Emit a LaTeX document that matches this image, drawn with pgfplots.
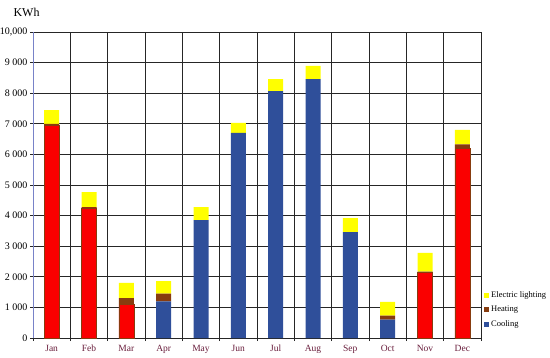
\documentclass[border=0pt]{standalone}
\usepackage{fontspec}
\setmainfont{Liberation Serif}
\usepackage{pgfplots}
\pgfplotsset{compat=1.18}

\definecolor{cool}{RGB}{47,79,154}
\definecolor{heatred}{RGB}{250,0,0}
\definecolor{heat}{RGB}{135,60,15}
\definecolor{light}{RGB}{255,255,0}
\definecolor{month}{RGB}{105,30,60}
\definecolor{yline}{RGB}{120,130,200}

\begin{document}
\begin{tikzpicture}
\useasboundingbox (-33pt,-19pt) rectangle (517pt,338pt);
\begin{axis}[
    at={(0pt,0pt)}, anchor=south west,
    scale only axis, width=448pt, height=306pt,
    ybar stacked, bar width=15pt,
    xmin=-0.5, xmax=11.5, ymin=0, ymax=10000,
    xtick={0,...,11},
    xticklabels={Jan,Feb,Mar,Apr,May,Jun,Jul,Aug,Sep,Oct,Nov,Dec},
    minor xtick={-0.5,0.5,...,11.5},
    ytick={0,1000,...,10000},
    yticklabels={0,1 000,2 000,3 000,4 000,5 000,6 000,7 000,8 000,9 000,{10,000}},
    scaled y ticks=false,
    ymajorgrids, xminorgrids,
    grid style={black!85, line width=0.8pt},
    minor grid style={black!85, line width=0.8pt},
    axis line style={black!85, line width=0.8pt},
    tick align=outside,
    major x tick style={draw=none},
    major tick length=3pt, minor tick length=3pt,
    y tick style={black!85, line width=0.8pt},
    minor x tick style={black!85, line width=0.8pt},
    yticklabel style={font=\fontsize{10}{11}\selectfont, text=black, xshift=1pt},
    xticklabel style={font=\fontsize{9.5}{11}\selectfont, text=month,
        text height=7pt, text depth=2pt},
    ytick pos=left, xtick pos=bottom,
    legend entries={Cooling,,Heating,Electric lighting},
    reverse legend,
    legend cell align=left,
    legend style={at={(rel axis cs:1,0.092)}, anchor=west, draw=none, fill=none,
        font=\fontsize{8.5}{9.5}\selectfont, row sep=3pt,
        /tikz/every even column/.append style={column sep=2pt}},
    legend image code/.code={\draw[#1,draw=none] (0pt,-2.5pt) rectangle (5pt,2.5pt);},
]
\addplot[fill=cool, draw=none] coordinates {
    (0,0) (1,0) (2,0) (3,1200) (4,3850) (5,6700)
    (6,8070) (7,8460) (8,3460) (9,600) (10,0) (11,0)};
\addplot[fill=heatred, draw=heat, line width=0.6pt] coordinates {
    (0,6950) (1,4250) (2,1100) (3,0) (4,0) (5,0)
    (6,0) (7,0) (8,0) (9,0) (10,2150) (11,6200)};
\addplot[fill=heat, draw=none] coordinates {
    (0,50) (1,30) (2,200) (3,250) (4,0) (5,0)
    (6,0) (7,0) (8,0) (9,130) (10,20) (11,130)};
\addplot[fill=light, draw=none] coordinates {
    (0,450) (1,490) (2,500) (3,410) (4,430) (5,330)
    (6,390) (7,430) (8,460) (9,450) (10,610) (11,470)};
\draw[yline, line width=0.8pt] (rel axis cs:0,0) -- (rel axis cs:0,1);
\end{axis}
\node[anchor=west, font=\fontsize{12}{14}\selectfont] at (-23pt,326pt) {KWh};
\end{tikzpicture}
\end{document}
